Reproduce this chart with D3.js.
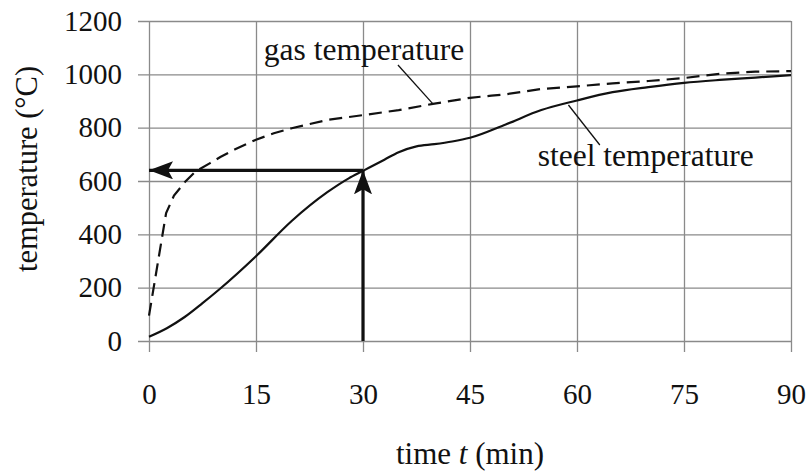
<!DOCTYPE html>
<html>
<head>
<meta charset="utf-8">
<script src="https://cdn.jsdelivr.net/npm/d3@7"></script>
<style>
  body { margin: 0; background: #fff; }
  svg text { font-family: "Liberation Serif", "Times New Roman", serif; fill: #111; }
</style>
</head>
<body>
<div id="chart"></div>
<script>
// data
const xTicks = [0, 15, 30, 45, 60, 75, 90];
const yTicks = [0, 200, 400, 600, 800, 1000, 1200];

const steelTime = [0, 2.5, 5, 7.5, 10, 15, 20, 25, 28, 30, 33, 35, 37.5, 40, 42.5, 45, 50, 55, 60, 65, 70, 75, 80, 85, 90];
const steelTemp = [16, 48, 90, 142, 197, 318, 450, 558, 610, 638, 680, 708, 730, 738, 748, 762, 812, 866, 902, 933, 952, 968, 979, 988, 997];

const gasTime = [0, 2.4, 3.5, 5, 6.5, 8.5, 10, 12, 15, 17.5, 20, 25, 30, 35, 39.8, 45, 48, 50, 55, 60, 65, 70, 75, 80, 85, 90];
const gasTemp = [95, 480, 545, 595, 635, 666, 690, 718, 755, 779, 798, 829, 847, 866, 889, 912, 920, 925, 945, 955, 966, 975, 986, 1002, 1010, 1012];

// read-off point (t = 30 min -> about 640 °C)
const readTime = 30;
const readTemp = 640;

// labels with their leader lines (time, temperature)
const gasLabel = { text: "gas temperature", t: 16.1, v: 1052, from: [34.9, 1035], to: [39.8, 889] };
const steelLabel = { text: "steel temperature", t: 54.5, v: 655, from: [63.2, 735], to: [58.8, 885] };

const plotLeft = 149, plotRight = 791, plotTop = 21, plotBottom = 341;

const svg = d3.select("#chart")
  .append("svg")
  .attr("width", 808)
  .attr("height", 472);

svg.append("rect").attr("width", 808).attr("height", 472).attr("fill", "#fff");

const x = d3.scaleLinear().domain([0, 90]).range([plotLeft, plotRight]);
const y = d3.scaleLinear().domain([0, 1200]).range([plotBottom, plotTop]);

// y axis: gridlines run from right edge out past the left edge
const yAxis = svg.append("g")
  .attr("transform", `translate(${plotRight},0)`)
  .call(d3.axisLeft(y).tickValues(yTicks).tickSize(plotRight - 138).tickPadding(16).tickFormat(d3.format("d")));
yAxis.select(".domain").remove();
yAxis.selectAll(".tick line").attr("stroke", "#8a8a8a").attr("stroke-width", 1.3);
yAxis.selectAll(".tick text").attr("font-size", 29).attr("fill", "#111");

// x axis: gridlines from top down past the bottom edge
const xAxis = svg.append("g")
  .attr("transform", `translate(0,${plotTop})`)
  .call(d3.axisBottom(x).tickValues(xTicks).tickSize(352 - plotTop).tickFormat(d3.format("d")));
xAxis.select(".domain").remove();
xAxis.selectAll(".tick line").attr("stroke", "#8a8a8a").attr("stroke-width", 1.3);
xAxis.selectAll(".tick text")
  .attr("font-size", 29)
  .attr("fill", "#111")
  .attr("dy", null)
  .attr("y", 404 - plotTop);

// axis titles
svg.append("text")
  .attr("transform", "translate(37,169) rotate(-90)")
  .attr("text-anchor", "middle")
  .attr("font-size", 30.5)
  .text("temperature (°C)");

const xt = svg.append("text")
  .attr("x", 470)
  .attr("y", 464)
  .attr("text-anchor", "middle")
  .attr("font-size", 31);
xt.append("tspan").text("time ");
xt.append("tspan").attr("font-style", "italic").text("t");
xt.append("tspan").text("  (min)");

// curves
const line = d3.line().x(d => x(d[0])).y(d => y(d[1]));

svg.append("path")
  .datum(gasTime.map((t, i) => [t, gasTemp[i]]))
  .attr("fill", "none")
  .attr("stroke", "#111")
  .attr("stroke-width", 2.2)
  .attr("stroke-dasharray", "13,7")
  .attr("d", line);

svg.append("path")
  .datum(steelTime.map((t, i) => [t, steelTemp[i]]))
  .attr("fill", "none")
  .attr("stroke", "#111")
  .attr("stroke-width", 2.2)
  .attr("d", line.curve(d3.curveMonotoneX));

// arrows
const defs = svg.append("defs");
defs.append("marker")
  .attr("id", "head")
  .attr("viewBox", "0 0 24 18")
  .attr("refX", 24)
  .attr("refY", 9)
  .attr("markerWidth", 24)
  .attr("markerHeight", 18)
  .attr("markerUnits", "userSpaceOnUse")
  .attr("orient", "auto")
  .append("path")
  .attr("d", "M0,0 L24,9 L0,18 L5,9 Z")
  .attr("fill", "#111");

svg.append("line")
  .attr("x1", x(readTime)).attr("y1", y(0))
  .attr("x2", x(readTime)).attr("y2", y(readTemp))
  .attr("stroke", "#111").attr("stroke-width", 3.2)
  .attr("marker-end", "url(#head)");

svg.append("line")
  .attr("x1", x(readTime)).attr("y1", y(readTemp))
  .attr("x2", x(0)).attr("y2", y(readTemp))
  .attr("stroke", "#111").attr("stroke-width", 3.2)
  .attr("marker-end", "url(#head)");

// curve labels with leader lines
[gasLabel, steelLabel].forEach(l => {
  svg.append("line")
    .attr("x1", x(l.from[0])).attr("y1", y(l.from[1]))
    .attr("x2", x(l.to[0])).attr("y2", y(l.to[1]))
    .attr("stroke", "#111").attr("stroke-width", 1.3);
  svg.append("text")
    .attr("x", x(l.t))
    .attr("y", y(l.v))
    .attr("font-size", 31.5)
    .text(l.text);
});
</script>
</body>
</html>
